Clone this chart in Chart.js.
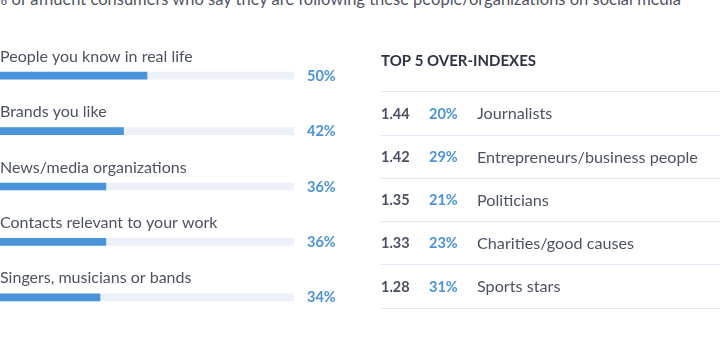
<!DOCTYPE html>
<html>
<head>
<meta charset="utf-8">
<script src="https://cdn.jsdelivr.net/npm/chart.js@4/dist/chart.umd.min.js"></script>
<style>
  html, body { margin: 0; padding: 0; background: #fff; }
  body { width: 720px; height: 340px; position: relative; overflow: hidden; font-family: Lato, "Open Sans", sans-serif; }
  .title { position: absolute; left: -6px; top: -11px; font-size: 16.5px; color: #50545f; white-space: nowrap; }
  .panel { position: absolute; top: 0; width: 360px; height: 340px; }
  #left { left: 0; }
  #right { left: 360px; }
</style>
</head>
<body>
<div class="title">% of affluent consumers who say they are following these people/organizations on social media</div>
<div class="panel" id="left"><canvas id="shareChart" width="360" height="340"></canvas></div>
<div class="panel" id="right"><canvas id="indexChart" width="360" height="340"></canvas></div>
<script>
const shareLabels = ["People you know in real life", "Brands you like", "News/media organizations", "Contacts relevant to your work", "Singers, musicians or bands"];
const shareValues = [50, 42, 36, 36, 34];

const overLabels = ["Journalists", "Entrepreneurs/business people", "Politicians", "Charities/good causes", "Sports stars"];
const overIndex = [1.44, 1.42, 1.35, 1.33, 1.28];
const overShare = [20, 29, 21, 23, 31];

const FONT = "Lato, 'Open Sans', sans-serif";
const BLUE = "#4a92da";
const TRACK = "#ecf0f8";
const TEXT = "#4c5261";

// text above each bar plus the percentage on the right of the track
const shareText = {
  id: "shareText",
  afterDatasetsDraw(chart) {
    const { ctx, scales } = chart;
    const x = scales.x, y = scales.y;
    ctx.save();
    ctx.textBaseline = "middle";
    shareValues.forEach((v, i) => {
      const cy = y.getPixelForValue(i);
      ctx.font = "16px " + FONT;
      ctx.fillStyle = TEXT;
      ctx.textAlign = "left";
      ctx.fillText(shareLabels[i], x.getPixelForValue(0), cy - 19);
      ctx.font = "bold 14.5px " + FONT;
      ctx.fillStyle = BLUE;
      ctx.fillText(v + "%", x.getPixelForValue(100) + 13, cy + 0.5);
    });
    ctx.restore();
  }
};

new Chart(document.getElementById("shareChart"), {
  type: "bar",
  data: {
    labels: shareLabels,
    datasets: [
      { data: shareValues, backgroundColor: BLUE, barThickness: 7, order: 1 },
      { data: shareLabels.map(() => 100), backgroundColor: TRACK, barThickness: 7, order: 2 }
    ]
  },
  options: {
    indexAxis: "y",
    responsive: false,
    animation: false,
    grouped: false,
    layout: { padding: { left: 0, right: 66, top: 48, bottom: 15 } },
    plugins: { legend: { display: false }, tooltip: { enabled: false } },
    scales: {
      x: { display: false, min: 0, max: 100 },
      y: { display: false }
    }
  },
  plugins: [shareText]
});

// heading and the three text columns of the over-index table
const tableText = {
  id: "tableText",
  afterDatasetsDraw(chart) {
    const { ctx, chartArea, scales } = chart;
    const y = scales.y;
    const left = chartArea.left;
    ctx.save();
    ctx.textBaseline = "middle";
    ctx.textAlign = "left";
    ctx.font = "bold 15px " + FONT;
    ctx.fillStyle = "#2e3444";
    ctx.fillText("TOP 5 OVER-INDEXES", left, chartArea.top - 31);
    overLabels.forEach((label, i) => {
      const cy = y.getPixelForValue(i) + 0.5;
      ctx.font = "bold 14.5px " + FONT;
      ctx.fillStyle = "#4b5162";
      ctx.fillText(overIndex[i].toFixed(2), left, cy);
      ctx.fillStyle = BLUE;
      ctx.fillText(overShare[i] + "%", left + 48, cy);
      ctx.font = "16.2px " + FONT;
      ctx.fillStyle = TEXT;
      ctx.fillText(label, left + 96, cy);
    });
    ctx.restore();
  }
};

new Chart(document.getElementById("indexChart"), {
  type: "bar",
  data: {
    labels: overLabels,
    datasets: [{ data: overIndex, backgroundColor: "rgba(0,0,0,0)" }]
  },
  options: {
    indexAxis: "y",
    responsive: false,
    animation: false,
    layout: { padding: { left: 21, right: 0, top: 92, bottom: 32 } },
    plugins: { legend: { display: false }, tooltip: { enabled: false } },
    scales: {
      x: { display: false, min: 0, max: 2 },
      y: {
        display: true,
        offset: true,
        ticks: { display: false },
        border: { display: false },
        grid: { offset: true, drawTicks: false, color: "#e2e8f3", lineWidth: 1 }
      }
    }
  },
  plugins: [tableText]
});
</script>
</body>
</html>
